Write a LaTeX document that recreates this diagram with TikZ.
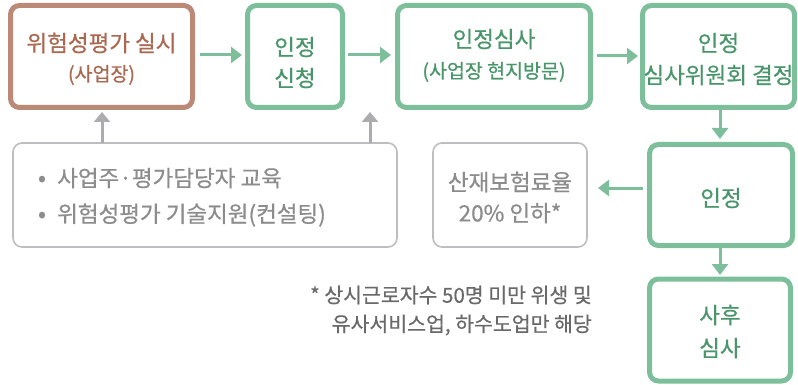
\documentclass[tikz,border=0pt]{standalone}
\usepackage{fontspec}
\setmainfont{Noto Sans CJK KR}[FakeBold=0.6]
\usetikzlibrary{arrows.meta}
\definecolor{gstroke}{RGB}{125,190,155}
\definecolor{gtext}{RGB}{72,150,105}
\definecolor{bstroke}{RGB}{187,138,118}
\definecolor{btext}{RGB}{170,105,80}
\definecolor{lgray}{RGB}{190,190,192}
\definecolor{agray}{RGB}{172,172,175}
\definecolor{tgray}{RGB}{140,140,140}
\definecolor{ngray}{RGB}{105,105,105}
\tikzset{
  gbox/.style={draw=gstroke, line width=5pt, rounded corners=9pt, fill=white, text=gtext, align=center, inner sep=0pt},
  bbox/.style={draw=bstroke, line width=5pt, rounded corners=9pt, fill=white, text=btext, align=center, inner sep=0pt},
  graybox/.style={draw=lgray, line width=1.6pt, rounded corners=9pt, fill=white, align=center, inner sep=0pt},
  garrow/.style={draw=gstroke, line width=3pt, -{Triangle[length=11pt,width=16pt]}},
  grayarrow/.style={draw=agray, line width=3pt, -{Triangle[length=10pt,width=16pt]}},
  big/.style={font=\fontsize{22.5}{32}\selectfont},
  small/.style={font=\fontsize{19.5}{32}\selectfont},
  bul/.style={text=tgray, font=\fontsize{24}{30}\selectfont, inner sep=0pt}
}
\begin{document}
\begin{tikzpicture}[x=1pt,y=-1pt]
\useasboundingbox (0,0) rectangle (798,385);
% top row
\node[bbox, minimum width=182pt, minimum height=102pt] (b1) at (101.5,56.5) {};
\node[text=btext, big] at (101.5,43) {위험성평가 실시};
\node[text=btext, small] at (101.5,75) {(사업장)};

\node[gbox, minimum width=95pt, minimum height=102pt] (b2) at (295,56.5) {};
\node[text=gtext, big] at (295,47) {인정};
\node[text=gtext, big] at (295,78) {신청};

\node[gbox, minimum width=193pt, minimum height=102pt] (b3) at (494,56.5) {};
\node[text=gtext, big] at (494,39) {인정심사};
\node[text=gtext, small] at (494,72) {(사업장 현지방문)};

\node[gbox, minimum width=152pt, minimum height=102pt] (b4) at (718.5,56.5) {};
\node[text=gtext, big] at (718.5,43) {인정};
\node[text=gtext, big] at (718.5,75) {심사위원회 결정};

% middle row
\node[gbox, minimum width=143pt, minimum height=101pt] (b5) at (721,195) {};
\node[text=gtext, big] at (721,198) {인정};

\node[graybox, minimum width=154pt, minimum height=104pt] (g1) at (510,195) {};
\node[text=tgray, big] at (510,182) {산재보험료율};
\node[text=tgray, big] at (510,213) {20\% 인하*};

\node[graybox, minimum width=384pt, minimum height=104pt] (g2) at (205,195) {};
\node[bul] at (42,181) {•};
\node[bul] at (42,217) {•};
\node[text=tgray, big, anchor=west, inner sep=0pt] at (57,178) {사업주·평가담당자 교육};
\node[text=tgray, big, anchor=west, inner sep=0pt] at (57,215) {위험성평가 기술지원(컨설팅)};

% bottom
\node[gbox, minimum width=141pt, minimum height=102pt] (b6) at (720,330) {};
\node[text=gtext, big] at (720,315) {사후};
\node[text=gtext, big] at (720,348) {심사};

\node[text=ngray, font=\fontsize{20.5}{30}\selectfont, anchor=east, inner sep=0pt] (n1) at (592,295) {* 상시근로자수 50명 미만 위생 및};
\node[text=ngray, font=\fontsize{20.5}{30}\selectfont, anchor=east, inner sep=0pt] (n2) at (592,325) {유사서비스업, 하수도업만 해당};

% arrows
\draw[garrow] (200,55) -- (242,55);
\draw[garrow] (348,55) -- (391,55);
\draw[garrow] (597,56) -- (638,56);
\draw[garrow] (720,110) -- (720,139);
\draw[garrow] (643,188) -- (598,188);
\draw[garrow] (720,248) -- (720,275);
\draw[grayarrow] (102,143) -- (102,112);
\draw[grayarrow] (370,143) -- (370,112);
\end{tikzpicture}
\end{document}
